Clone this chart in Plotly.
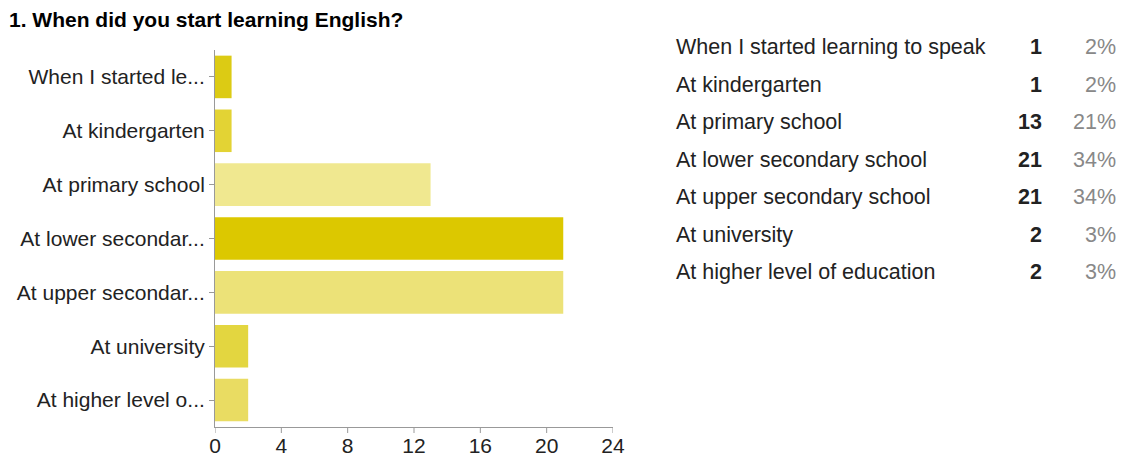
import plotly.graph_objects as go

title = "1. When did you start learning English?"
categories = [
    "When I started learning to speak",
    "At kindergarten",
    "At primary school",
    "At lower secondary school",
    "At upper secondary school",
    "At university",
    "At higher level of education",
]
short_labels = [
    "When I started le...",
    "At kindergarten",
    "At primary school",
    "At lower secondar...",
    "At upper secondar...",
    "At university",
    "At higher level o...",
]
counts = [1, 1, 13, 21, 21, 2, 2]
percents = ["2%", "2%", "21%", "34%", "34%", "3%", "3%"]
colors = ["#dccb14", "#e3d334", "#f0e890", "#dcc800", "#ece278", "#e3d640", "#e9dc62"]
x_ticks = [0, 4, 8, 12, 16, 20, 24]

W, H = 1122, 457
L, R_px, T, B_px = 215, 613, 50, 427

fig = go.Figure()
fig.add_trace(go.Bar(
    y=short_labels, x=counts, orientation="h",
    marker=dict(color=colors, line=dict(width=0)),
    hoverinfo="x+y",
))

fig.update_layout(
    width=W, height=H,
    margin=dict(l=L, r=W - R_px, t=T, b=H - B_px, pad=0, autoexpand=False),
    plot_bgcolor="white", paper_bgcolor="white",
    bargap=0.21,
    showlegend=False,
    font=dict(family="Liberation Sans, Arial, sans-serif", size=21, color="#222222"),
    xaxis=dict(
        range=[0, 24], tickvals=x_ticks, showgrid=False, zeroline=False,
        showline=True, linecolor="#999999", linewidth=1, automargin=False,
        ticks="", tickfont=dict(size=21, color="#222222"), fixedrange=True,
    ),
    yaxis=dict(
        autorange="reversed", showgrid=False, zeroline=False,
        showline=True, linecolor="#999999", linewidth=1, automargin=False,
        ticks="outside", ticklen=5, tickcolor="#999999",
        tickfont=dict(size=21, color="#222222"), fixedrange=True,
    ),
)

plot_h = B_px - T
for v in x_ticks:
    fig.add_shape(type="line", xref="x", yref="paper", x0=v, x1=v, y0=0, y1=-6 / plot_h,
                  line=dict(color="#999999", width=1))


def px_x(p):
    return (p - L) / (R_px - L)


def px_y(p):
    return (B_px - p) / plot_h


annotations = [dict(
    text="<b>" + title + "</b>", xref="paper", yref="paper",
    x=px_x(7), y=px_y(20),
    xanchor="left", yanchor="middle", showarrow=False,
    font=dict(size=21, color="#000000"),
)]

for i, (cat, c, pc) in enumerate(zip(categories, counts, percents)):
    yy = px_y(47 + i * 37.5)
    annotations.append(dict(text=cat, xref="paper", yref="paper", x=px_x(674), y=yy,
                            xanchor="left", yanchor="middle", showarrow=False,
                            font=dict(size=21.5, color="#222222")))
    annotations.append(dict(text="<b>" + str(c) + "</b>", xref="paper", yref="paper", x=px_x(1044), y=yy,
                            xanchor="right", yanchor="middle", showarrow=False,
                            font=dict(size=21.5, color="#222222")))
    annotations.append(dict(text=pc, xref="paper", yref="paper", x=px_x(1118), y=yy,
                            xanchor="right", yanchor="middle", showarrow=False,
                            font=dict(size=21.5, color="#888888")))

fig.update_layout(annotations=annotations)
fig.write_html("out.html",
               config={"displayModeBar": False},
               post_script="document.body.style.margin='0px';document.body.style.overflow='hidden';")
